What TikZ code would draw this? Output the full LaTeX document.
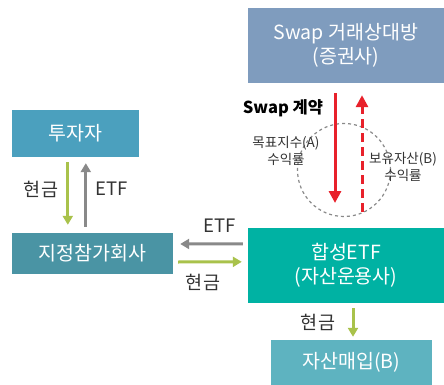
\documentclass[tikz,border=0pt]{standalone}
\usepackage{fontspec}
\setmainfont{Noto Sans CJK KR}
\usetikzlibrary{arrows.meta,calc}
\definecolor{swapc}{HTML}{7F9CBE}
\definecolor{invc}{HTML}{4BA0BE}
\definecolor{apc}{HTML}{4A94A4}
\definecolor{etfc}{HTML}{00B2A3}
\definecolor{buyc}{HTML}{5EB3C0}
\definecolor{greenc}{HTML}{A9C24B}
\definecolor{greyc}{HTML}{898989}
\definecolor{redc}{HTML}{E8212B}
\definecolor{txtc}{HTML}{333333}
\tikzset{
  box/.style={fill=#1, text=white, inner sep=0pt, font=\fontsize{19.5}{24}\selectfont, align=center},
  lbl/.style={text=txtc, inner sep=0pt, font=\fontsize{18.5}{22}\selectfont},
  small/.style={text=txtc, inner sep=0pt, font=\fontsize{13.5}{17}\selectfont, align=center},
  garrow/.style={draw=greenc, line width=3pt, -{Triangle[width=10pt,length=9pt]}},
  grarrow/.style={draw=greyc, line width=3pt, -{Triangle[width=10pt,length=9pt]}},
  rarrow/.style={draw=redc, line width=3pt, -{Triangle[width=12pt,length=12pt]}},
}
\begin{document}
\begin{tikzpicture}[x=1pt,y=-1pt]
\useasboundingbox (0,0) rectangle (444,385);
% boxes
\node[box=swapc, minimum width=196pt, minimum height=75pt] (swap) at (346,45.5) {Swap 거래상대방\\(증권사)};
\node[box=invc, minimum width=127pt, minimum height=47pt] (inv) at (75.5,133.5) {투자자};
\node[box=apc, minimum width=161pt, minimum height=41pt] (ap) at (92.5,253.5) {지정참가회사};
\node[box=etfc, minimum width=196pt, minimum height=75pt] (etf) at (346,265.5) {합성ETF\\(자산운용사)};
\node[box=buyc, minimum width=161pt, minimum height=45pt] (buy) at (351.5,362.5) {자산매입(B)};
% investor <-> AP
\draw[garrow] ($(inv.south west)+(56,5)$) -- ($(ap.north west)+(56,-8)$);
\draw[grarrow] ($(ap.north west)+(74,-6)$) -- ($(inv.south west)+(74,6)$);
\node[lbl] (l1) at (41,189) {현금};
\node[lbl] (l2) at (112,189) {ETF};
% AP <-> ETF
\draw[grarrow] ($(etf.north west)+(-5,16)$) -- ($(ap.east)+(7,-9.5)$);
\draw[garrow] ($(ap.east)+(5,8.5)$) -- ($(etf.north west)+(-6,34)$);
\node[lbl] (l3) at (220,226) {ETF};
\node[lbl] (l4) at (203,282) {현금};
% ETF -> buy
\draw[garrow] ($(etf.south)+(7,5)$) -- ($(buy.north -| etf.south)+(7,-3)$);
\node[lbl] (l5) at (318,322) {현금};
% swap
\node[draw=greyc, line width=1.2pt, dash pattern=on 3pt off 3pt, circle, minimum size=93pt, inner sep=0pt] (circ) at (344,170) {};
\coordinate (rs1) at ($(swap.south)+(-11,10)$);
\coordinate (rs2) at (335,203);
\coordinate (rd1) at (362,212);
\coordinate (rd2) at ($(swap.south)+(16,12)$);
\draw[rarrow] (rs1) -- (rs2);
\draw[rarrow, dash pattern=on 9pt off 5pt] (rd1) -- (rd2);
\node[text=black, inner sep=0pt, font=\fontsize{16.5}{20}\selectfont\bfseries] (sw) at (283,108) {Swap 계약};
\node[small] (ta) at (286,151) {목표지수(A)\\수익률};
\node[small] (tb) at (403,167) {보유자산(B)\\수익률};
\end{tikzpicture}
\end{document}
